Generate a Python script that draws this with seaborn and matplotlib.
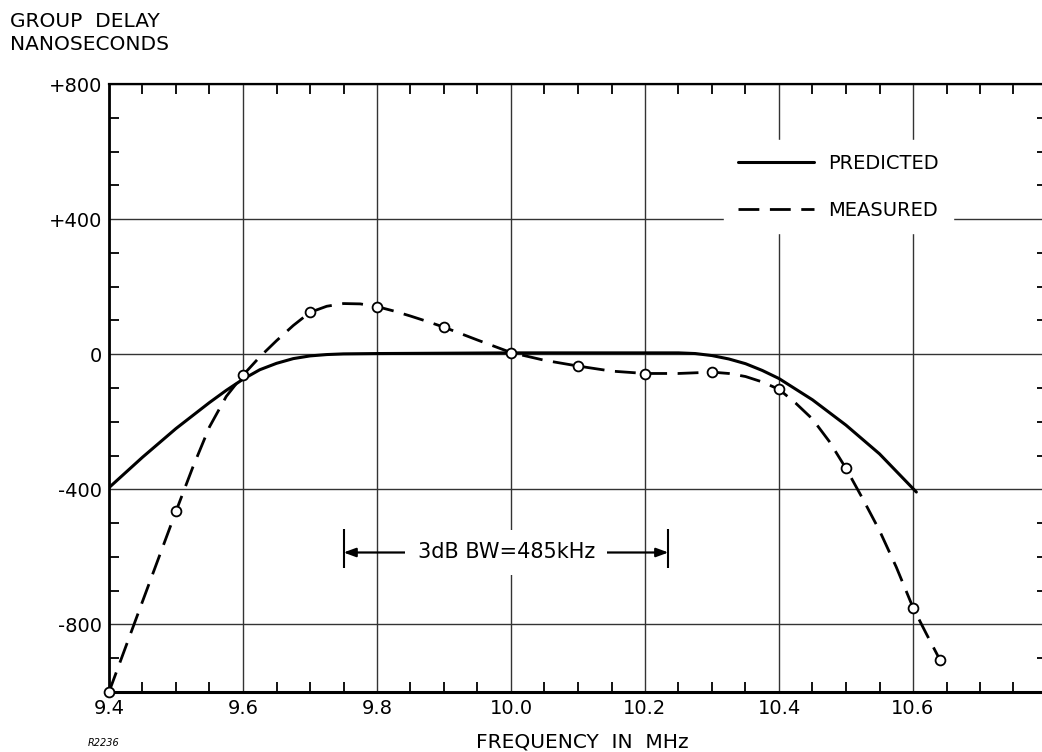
import matplotlib
matplotlib.use("Agg")
import matplotlib.pyplot as plt
import seaborn as sns
from matplotlib.ticker import MultipleLocator, FixedLocator, FixedFormatter

# Measured group delay points (MHz, ns)
freq_meas = [9.4, 9.5, 9.6, 9.7, 9.8, 9.9, 10.0, 10.1, 10.2, 10.3, 10.4, 10.5, 10.6, 10.64]
delay_meas = [-1000, -465, -62, 124, 139, 80, 5, -35, -59, -53, -104, -338, -750, -904]

# Faired curve drawn through the measured points
freq_meas_curve = [9.400, 9.450, 9.500, 9.525, 9.550, 9.575, 9.600, 9.625, 9.650, 9.675,
                   9.700, 9.725, 9.750, 9.775, 9.800, 9.825, 9.850, 9.875, 9.900, 9.950,
                   10.000, 10.050, 10.100, 10.150, 10.200, 10.250, 10.300, 10.325, 10.350,
                   10.375, 10.400, 10.425, 10.450, 10.475, 10.500, 10.525, 10.550, 10.575,
                   10.600, 10.620, 10.640]
delay_meas_curve = [-1000, -732, -465, -335, -215, -125, -62, -8, 40, 85,
                    124, 142, 150, 149, 141, 128, 113, 97, 80, 42,
                    5, -18, -35, -50, -57, -57, -53, -57, -66,
                    -82, -104, -145, -192, -258, -338, -428, -522, -630,
                    -750, -828, -904]

# Predicted group delay
freq_pred = [9.400, 9.450, 9.500, 9.550, 9.575, 9.600, 9.625, 9.650, 9.675, 9.700,
             9.725, 9.750, 9.800, 9.900, 10.000, 10.100, 10.200, 10.250, 10.275, 10.300,
             10.325, 10.350, 10.375, 10.400, 10.450, 10.500, 10.550, 10.605]
delay_pred = [-395, -305, -220, -143, -107, -74, -46, -27, -13, -5,
              -1, 1, 2, 3, 4, 4, 4, 4, 2, -4,
              -14, -28, -48, -72, -135, -210, -295, -408]

x_ticks = [9.4, 9.6, 9.8, 10.0, 10.2, 10.4, 10.6]
x_tick_labels = ["9.4", "9.6", "9.8", "10.0", "10.2", "10.4", "10.6"]
y_ticks = [-800, -400, 0, 400, 800]
y_tick_labels = ["-800", "-400", "0", "+400", "+800"]

bw_left, bw_right = 9.75, 10.235

sns.set_theme(style="white")
plt.rcParams['font.family'] = ['DejaVu Sans']
plt.rcParams.update({"text.color": "black", "xtick.color": "black",
                     "ytick.color": "black", "axes.labelcolor": "black"})

W, H = 1042, 752
fig = plt.figure(figsize=(W / 100, H / 100), dpi=100)
fig.patch.set_facecolor("white")
ax = fig.add_axes([109 / W, 1 - 692 / H, (1047 - 109) / W, (692 - 84) / H])
ax.set_facecolor("white")

ax.set_xlim(9.4, 10.8)
ax.set_ylim(-1000, 800)

# grid and ticks
ax.xaxis.set_major_locator(FixedLocator(x_ticks + [10.8]))
ax.xaxis.set_major_formatter(FixedFormatter(x_tick_labels + [""]))
ax.yaxis.set_major_locator(FixedLocator(y_ticks))
ax.yaxis.set_major_formatter(FixedFormatter(y_tick_labels))
ax.xaxis.set_minor_locator(MultipleLocator(0.05))
ax.yaxis.set_minor_locator(MultipleLocator(100))
ax.grid(True, which="major", color="0.2", lw=1.0)
ax.set_axisbelow(True)

ax.tick_params(which="major", length=0, labelsize=14, pad=5, labelcolor="black")
ax.tick_params(which="minor", direction="in", length=7, width=1.3, color="black",
               top=True, right=True, bottom=True, left=True)
for sp in ax.spines.values():
    sp.set_color("black")
    sp.set_visible(True)
ax.spines["left"].set_linewidth(2.0)
ax.spines["bottom"].set_linewidth(2.2)
ax.spines["top"].set_linewidth(1.6)
ax.spines["right"].set_linewidth(1.6)

# curves
sns.lineplot(x=freq_pred, y=delay_pred, ax=ax, color="black", lw=2.2,
             sort=False, estimator=None, label="PREDICTED")
sns.lineplot(x=freq_meas_curve, y=delay_meas_curve, ax=ax, color="black", lw=2.0,
             sort=False, estimator=None, linestyle=(0, (7.5, 3.8)), label="MEASURED")
sns.scatterplot(x=freq_meas, y=delay_meas, ax=ax, s=50, facecolor="white",
                edgecolor="black", linewidth=1.3, zorder=5, clip_on=False, legend=False)

leg = ax.legend(loc="upper left", bbox_to_anchor=(0.656, 0.908), fontsize=14,
                handlelength=3.9, handletextpad=0.75, labelspacing=1.45,
                frameon=True, facecolor="white", edgecolor="white", framealpha=1.0,
                borderpad=0.7, borderaxespad=0.0, fancybox=False)
for line in leg.get_lines():
    line.set_color("black")
for t in leg.get_texts():
    t.set_color("black")

# 3 dB bandwidth marker
ax.vlines([bw_left, bw_right], -516, -634, color="black", lw=1.5)
arrow_kw = dict(arrowstyle="-|>,head_length=0.6,head_width=0.22", color="black",
                lw=1.6, shrinkA=0, shrinkB=0)
ax.annotate("", xy=(bw_left, -587), xytext=(9.99, -587), arrowprops=arrow_kw, zorder=3)
ax.annotate("", xy=(bw_right, -587), xytext=(9.99, -587), arrowprops=arrow_kw, zorder=3)
ax.text(9.993, -587, "3dB BW=485kHz", ha="center", va="center", fontsize=15,
        color="black", bbox=dict(facecolor="white", edgecolor="none", pad=9), zorder=4)

ax.set_xlabel("")
ax.set_ylabel("")

fig.text(10 / W, 1 - 12 / H, "GROUP  DELAY\nNANOSECONDS", ha="left", va="top",
         fontsize=14.5, linespacing=1.3, color="black")
fig.text(582 / W, 1 - 747 / H, "FREQUENCY  IN  MHz", ha="center", va="baseline",
         fontsize=14.5, color="black")
fig.text(88 / W, 1 - 746 / H, "R2236", ha="left", va="baseline", fontsize=7,
         style="italic", color="black")

fig.savefig("out.png", dpi=100, facecolor="white")
